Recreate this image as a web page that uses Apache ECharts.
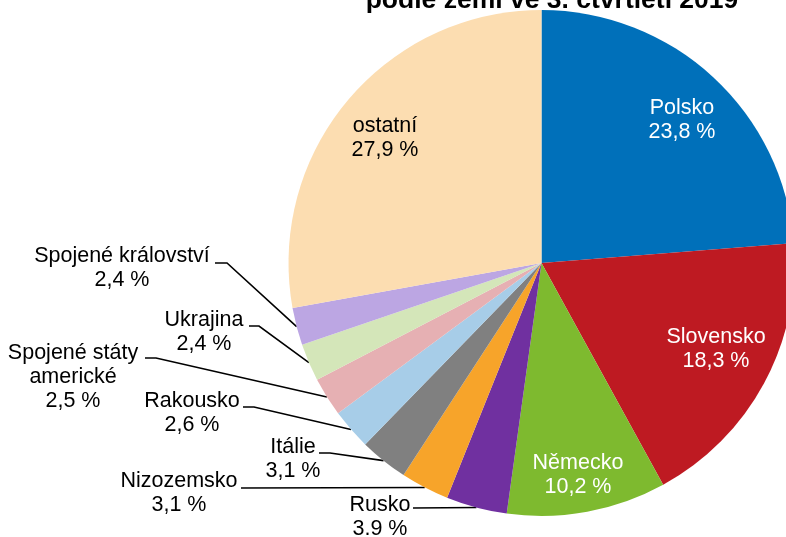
<!DOCTYPE html>
<html>
<head>
<meta charset="utf-8">
<script src="https://cdn.jsdelivr.net/npm/echarts@6/dist/echarts.min.js"></script>
<style>
  html, body { margin: 0; padding: 0; background: #fff; }
  #chart { width: 786px; height: 537px; }
</style>
</head>
<body>
<div id="chart"></div>
<script>
// countries, clockwise from 12 o'clock
const countries = ['Polsko', 'Slovensko', 'Německo', 'Rusko', 'Nizozemsko', 'Itálie',
  'Rakousko', 'Spojené státy\namerické', 'Ukrajina', 'Spojené království', 'ostatní'];
const shares = [23.8, 18.3, 10.2, 3.9, 3.1, 3.1, 2.6, 2.5, 2.4, 2.4, 27.9];
// printed as in the source (Rusko uses a dot there)
const shareTexts = ['23,8', '18,3', '10,2', '3.9', '3,1', '3,1', '2,6', '2,5', '2,4', '2,4', '27,9'];
const colors = ['#0070ba', '#be1a22', '#7eba2f', '#7030a0', '#f7a42a', '#808080',
  '#a7cde8', '#e6b0b3', '#d4e6b9', '#bca6e3', '#fcddb1'];
const insideSlices = [0, 1, 2, 10];

// label centre + leader elbow/end (for outside labels)
const labelPos = [
  { x: 682, y: 120 },
  { x: 716, y: 349 },
  { x: 578, y: 475 },
  { x: 380, y: 517, line: [[413, 508]] },
  { x: 179, y: 493, line: [[241, 488]] },
  { x: 293, y: 459, line: [[330, 453], [319, 453]] },
  { x: 192, y: 413, line: [[254, 407], [243, 407]] },
  { x: 73, y: 377, line: [[156, 358], [145, 358]] },
  { x: 204, y: 332, line: [[259, 326], [249, 326]] },
  { x: 122, y: 268, line: [[227, 263], [215, 263]] },
  { x: 385, y: 138 }
];

const chart = echarts.init(document.getElementById('chart'));

const data = countries.map((name, i) => {
  const inside = insideSlices.includes(i);
  return {
    name: name,
    value: shares[i],
    itemStyle: { color: colors[i] },
    label: inside
      ? { position: 'inside', color: i === 10 ? '#000' : '#fff' }
      : { position: 'outside', color: '#000' },
    labelLine: { show: !inside }
  };
});

chart.setOption({
  animation: false,
  title: {
    text: 'podle zemí ve 3. čtvrtletí 2019',
    left: 547,
    top: -18,
    textAlign: 'center',
    textStyle: {
      fontFamily: 'Liberation Sans',
      fontWeight: 'bold',
      fontSize: 26.5,
      color: '#000'
    }
  },
  series: [{
    type: 'pie',
    center: [541.5, 263],
    radius: 253,
    startAngle: 90,
    clockwise: true,
    avoidLabelOverlap: false,
    itemStyle: { borderWidth: 0 },
    label: {
      fontFamily: 'Liberation Sans',
      fontSize: 21.5,
      lineHeight: 24,
      align: 'center',
      formatter: p => p.name + '\n' + shareTexts[p.dataIndex] + ' %'
    },
    labelLine: {
      lineStyle: { color: '#000', width: 1.6 }
    },
    labelLayout: params => {
      const pos = labelPos[params.dataIndex];
      const res = { x: pos.x, y: pos.y, align: 'center', verticalAlign: 'middle' };
      if (pos.line && params.labelLinePoints) {
        res.labelLinePoints = [params.labelLinePoints[0]].concat(pos.line);
      }
      return res;
    },
    data: data
  }]
});
</script>
</body>
</html>
